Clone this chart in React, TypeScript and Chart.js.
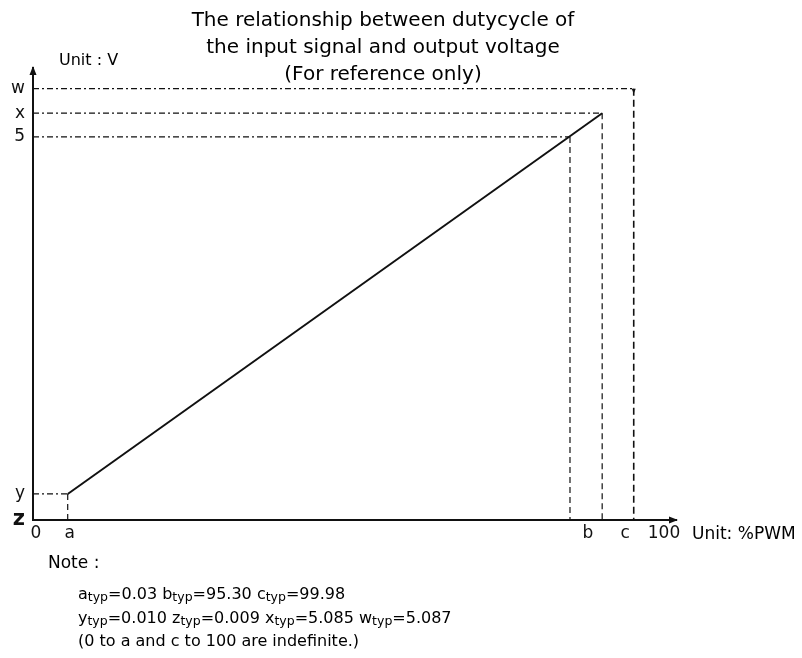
import React, { useEffect, useRef } from 'react';
import { Chart, registerables } from 'chart.js';

Chart.register(...registerables);

// Schematic (not-to-scale) positions, as drawn in the reference
const xLabels = ['0', 'a', 'b', 'c', '100'];
const xPositions = [0, 5.5, 85.1, 90.2, 100];
const xLabelNudge = [3, 2, 18, 23, 0];
const wColumn = 95.2;
const xMax = 101.9;

const yLabels = ['z', 'y', '5', 'x', 'w'];
const yPositions = [0, 0.34, 5, 5.31, 5.63];
const yMax = 5.9;

const titleLines = [
  'The relationship between dutycycle of',
  'the input signal and output voltage',
  '(For reference only)',
];

const noteRow1: [string, string][] = [
  ['a', '0.03'],
  ['b', '95.30'],
  ['c', '99.98'],
];
const noteRow2: [string, string][] = [
  ['y', '0.010'],
  ['z', '0.009'],
  ['x', '5.085'],
  ['w', '5.087'],
];
const noteRow3 = '(0 to a and c to 100 are indefinite.)';

const FONT = "'DejaVu Sans', 'Liberation Sans', sans-serif";
const INK = '#111';
const DASH_DOT = [6, 3, 2, 3];
const DASHED = [6, 4];

const [, xA, xB, xC] = xPositions;
const [, yY, y5, yX, yW] = yPositions;

function seg(p: { x: number; y: number }[], dash: number[], width = 1.2) {
  return {
    data: p,
    showLine: true,
    borderColor: INK,
    borderWidth: width,
    borderDash: dash,
    pointRadius: 0,
    fill: false,
  };
}

const axisExtras = {
  id: 'axisExtras',
  afterDraw(chart: any) {
    const { ctx, chartArea, scales } = chart;
    const { left, right, top, bottom } = chartArea;
    ctx.save();
    ctx.fillStyle = INK;
    // y arrow
    ctx.beginPath();
    ctx.moveTo(left, top - 2);
    ctx.lineTo(left - 3.5, top + 7);
    ctx.lineTo(left + 3.5, top + 7);
    ctx.closePath();
    ctx.fill();
    // x arrow
    ctx.beginPath();
    ctx.moveTo(right + 2, bottom);
    ctx.lineTo(right - 7, bottom - 3.5);
    ctx.lineTo(right - 7, bottom + 3.5);
    ctx.closePath();
    ctx.fill();
    // small mark at top of w column
    const wx = scales.x.getPixelForValue(wColumn);
    const wy = scales.y.getPixelForValue(yW);
    ctx.beginPath();
    ctx.moveTo(wx, wy + 5);
    ctx.lineTo(wx - 2, wy);
    ctx.lineTo(wx + 2, wy);
    ctx.closePath();
    ctx.fill();
    // x axis labels
    ctx.font = `17px ${FONT}`;
    ctx.textAlign = 'center';
    ctx.textBaseline = 'middle';
    xLabels.forEach((lab, i) => {
      const px = scales.x.getPixelForValue(xPositions[i]) + xLabelNudge[i];
      ctx.fillText(lab, px, bottom + 14);
    });
    ctx.restore();
  },
};

export default function App() {
  const ref = useRef<HTMLCanvasElement>(null);

  useEffect(() => {
    if (!ref.current) return;
    const chart = new Chart(ref.current, {
      type: 'scatter',
      data: {
        datasets: [
          seg([{ x: xA, y: yY }, { x: xC, y: yX }], [], 2),
          seg([{ x: 0, y: yW }, { x: wColumn, y: yW }], DASH_DOT),
          seg([{ x: wColumn, y: yW }, { x: wColumn, y: 0 }], [7, 4], 1.6),
          seg([{ x: 0, y: yX }, { x: xC, y: yX }], DASH_DOT),
          seg([{ x: xC, y: yX }, { x: xC, y: 0 }], DASHED),
          seg([{ x: 0, y: y5 }, { x: xB, y: y5 }], DASH_DOT),
          seg([{ x: xB, y: y5 }, { x: xB, y: 0 }], DASHED),
          seg([{ x: 0, y: yY }, { x: xA, y: yY }], DASH_DOT),
          seg([{ x: xA, y: yY }, { x: xA, y: 0 }], DASHED),
        ] as any,
      },
      options: {
        animation: false,
        responsive: true,
        maintainAspectRatio: false,
        layout: { padding: { left: 0, top: 68, right: 126, bottom: 0 } },
        plugins: {
          legend: { display: false },
          tooltip: { enabled: false },
          title: { display: false },
        },
        elements: { line: { tension: 0 } },
        scales: {
          x: {
            type: 'linear',
            min: 0,
            max: xMax,
            grid: { display: false, drawTicks: false },
            border: { display: true, color: INK, width: 2 },
            ticks: { display: false },
            afterFit: (s: any) => {
              s.height = 138;
            },
          },
          y: {
            type: 'linear',
            min: 0,
            max: yMax,
            grid: { display: false, drawTicks: false },
            border: { display: true, color: INK, width: 2 },
            afterBuildTicks: (s: any) => {
              s.ticks = yPositions.map((v) => ({ value: v }));
            },
            afterFit: (s: any) => {
              s.width = 33;
            },
            ticks: {
              padding: 8,
              color: INK,
              autoSkip: false,
              font: (c: any) =>
                c.index === 0
                  ? { size: 21, weight: 'bold', family: FONT }
                  : { size: 17, family: FONT },
              callback: (_v: any, i: number) => yLabels[i],
            },
          },
        },
      },
      plugins: [axisExtras],
    });
    return () => chart.destroy();
  }, []);

  const txt: React.CSSProperties = {
    position: 'absolute',
    fontFamily: FONT,
    color: '#000',
    whiteSpace: 'nowrap',
  };
  const sub: React.CSSProperties = { fontSize: 12.5, verticalAlign: '-2px' };

  return (
    <div style={{ position: 'fixed', left: 0, top: 0, width: 802, height: 658, background: '#fff' }}>
      <canvas ref={ref} />
      {titleLines.map((t, i) => (
        <div
          key={i}
          style={{
            ...txt,
            left: 0,
            width: 766,
            textAlign: 'center',
            top: 7 + i * 27,
            fontSize: 20,
            lineHeight: '25px',
          }}
        >
          {t}
        </div>
      ))}
      <div style={{ ...txt, left: 59, top: 50, fontSize: 16, lineHeight: '20px' }}>Unit : V</div>
      <div style={{ ...txt, left: 692, top: 523, fontSize: 17, lineHeight: '20px' }}>Unit: %PWM</div>
      <div style={{ ...txt, left: 48, top: 552, fontSize: 17, lineHeight: '20px' }}>Note :</div>
      <div style={{ ...txt, left: 78, top: 584, fontSize: 16, lineHeight: '20px' }}>
        {noteRow1.map(([k, v], i) => (
          <span key={i}>
            {i > 0 ? ' ' : ''}
            {k}
            <span style={sub}>typ</span>={v}
          </span>
        ))}
      </div>
      <div style={{ ...txt, left: 78, top: 608, fontSize: 16, lineHeight: '20px' }}>
        {noteRow2.map(([k, v], i) => (
          <span key={i}>
            {i > 0 ? ' ' : ''}
            {k}
            <span style={sub}>typ</span>={v}
          </span>
        ))}
      </div>
      <div style={{ ...txt, left: 78, top: 631, fontSize: 16, lineHeight: '20px' }}>{noteRow3}</div>
    </div>
  );
}
